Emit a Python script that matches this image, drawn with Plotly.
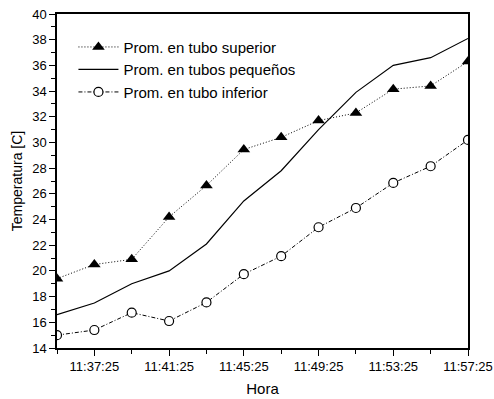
import plotly.graph_objects as go

times = ["11:35:25", "11:37:25", "11:39:25", "11:41:25", "11:43:25", "11:45:25",
         "11:47:25", "11:49:25", "11:51:25", "11:53:25", "11:55:25", "11:57:25"]
superior = [19.4, 20.5, 20.9, 24.2, 26.65, 29.45, 30.4, 31.7, 32.3, 34.15, 34.4, 36.3]
pequenos = [16.6, 17.5, 19.0, 20.0, 22.1, 25.45, 27.8, 31.0, 33.9, 36.0, 36.6, 38.1]
inferior = [15.0, 15.4, 16.75, 16.1, 17.55, 19.75, 21.15, 23.4, 24.9, 26.85, 28.15, 30.2]

x = ["2000-01-01 " + t for t in times]

fig = go.Figure()
fig.add_trace(go.Scatter(x=x, y=superior, name="Prom. en tubo superior", mode="lines+markers",
                         line=dict(color="black", width=1, dash="1px,2px"),
                         marker=dict(symbol="triangle-up", size=11, color="black")))
fig.add_trace(go.Scatter(x=x, y=pequenos, name="Prom. en tubos pequeños", mode="lines",
                         line=dict(color="black", width=1.2)))
fig.add_trace(go.Scatter(x=x, y=inferior, name="Prom. en tubo inferior", mode="lines+markers",
                         line=dict(color="black", width=1, dash="4px,2px,1px,2px"),
                         marker=dict(symbol="circle", size=9, color="white",
                                     line=dict(color="black", width=1.2))))

fig.update_layout(
    width=494, height=399,
    margin=dict(l=57, r=26, t=14, b=51),
    paper_bgcolor="white", plot_bgcolor="white",
    font=dict(family="Liberation Sans, Arial", size=13, color="black"),
    showlegend=True,
    legend=dict(x=0.04, y=0.95, xanchor="left", yanchor="top", itemwidth=40,
                bgcolor="rgba(0,0,0,0)", font=dict(size=15), tracegroupgap=0),
    xaxis=dict(
        title=dict(text="Hora", font=dict(size=15), standoff=10),
        automargin=False,
        type="date",
        range=["2000-01-01 11:35:25", "2000-01-01 11:57:25"],
        tick0="2000-01-01 11:37:25", dtick=240000,
        tickformat="%H:%M:%S",
        ticks="outside", ticklen=6, tickwidth=1, tickcolor="black",
        minor=dict(dtick=120000, tick0="2000-01-01 11:35:25", ticks="outside",
                   ticklen=4, tickcolor="black", showgrid=False),
        showline=True, linecolor="black", linewidth=1.5, mirror=True,
        showgrid=False, zeroline=False,
    ),
    yaxis=dict(
        title=dict(text="Temperatura [C]", font=dict(size=14), standoff=6),
        automargin=False,
        range=[14, 40], dtick=2, tick0=14,
        ticks="outside", ticklen=6, tickwidth=1, tickcolor="black",
        minor=dict(dtick=1, ticks="outside", ticklen=4, tickcolor="black", showgrid=False),
        showline=True, linecolor="black", linewidth=1.5, mirror=True,
        showgrid=False, zeroline=False,
    ),
)

fig.write_html("out.html")
